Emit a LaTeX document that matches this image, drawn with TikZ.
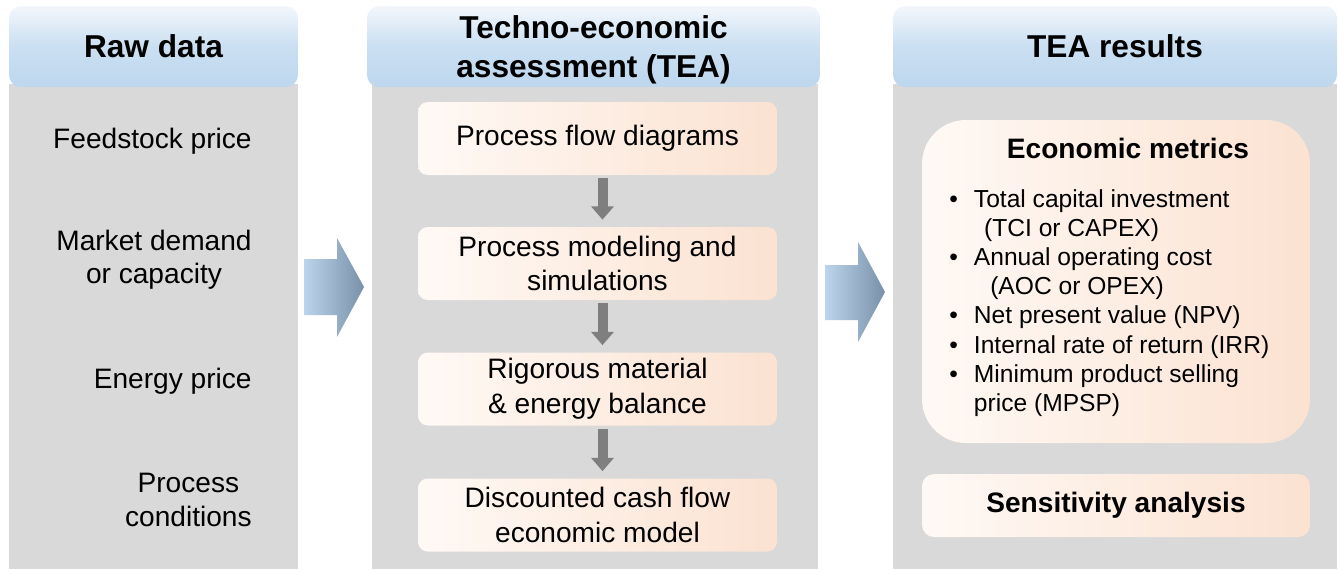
\documentclass[tikz,border=0pt]{standalone}
\usepackage{fontspec}
\setmainfont{Liberation Sans}
\usepackage{tikz}
\usetikzlibrary{arrows.meta,shapes,positioning,calc}
\usepackage{xcolor}

\definecolor{hdrtop}{HTML}{F3F7FC}
\definecolor{hdrbot}{HTML}{BDD7EE}
\definecolor{panel}{HTML}{D9D9D9}
\definecolor{boxl}{HTML}{FFF9F5}
\definecolor{boxr}{HTML}{FBE2D1}
\definecolor{arrl}{HTML}{BCD4EC}
\definecolor{arrr}{HTML}{7890A8}
\definecolor{darrow}{HTML}{7F7F7F}

\tikzset{
    hdr/.style={rounded corners=6.8pt, top color=hdrtop, bottom color=hdrbot,
        middle color=hdrbot!75!hdrtop, minimum height=1.62cm, align=center,
        font=\fontsize{18}{22.5}\selectfont\bfseries},
    stepbox/.style={rounded corners=5.5pt, left color=boxl, right color=boxr,
        minimum width=7.18cm, minimum height=1.46cm, align=center,
        font=\fontsize{16}{19.8}\selectfont},
    rawtxt/.style={anchor=east, align=center, inner sep=0pt,
        font=\fontsize{16}{19}\selectfont},
    downarr/.style={draw=darrow, line width=5.7pt,
        -{Triangle[width=12.5pt,length=7.5pt]}, shorten <=1.7pt, shorten >=4pt}
}

\begin{document}
\begin{tikzpicture}[x=0.02cm, y=-0.02cm]
    \useasboundingbox (0,0) rectangle (1338,569);

    % 三列灰色底板
    \fill[panel] (9,84) rectangle (298,569);
    \fill[panel] (372,84) rectangle (818,569);
    \fill[panel] (893,84) rectangle (1337,569);

    % 列标题
    \node[hdr, minimum width=5.78cm] (hraw) at (153.5,46.5) {Raw data};
    \node[hdr, minimum width=9.06cm, text depth=0pt] (htea) at (593.5,46.5) {Techno-economic\\assessment (TEA)};
    \node[hdr, minimum width=8.88cm] (hres) at (1115,46.5) {TEA results};

    % 原始数据
    \node[rawtxt] (feed) at (252,141) {Feedstock price};
    \node[rawtxt] (market) at (252,260) {Market demand\\or capacity};
    \node[rawtxt] (energy) at (252,381) {Energy price};
    \node[rawtxt] (cond) at (252,500) {Process\\conditions};

    % 列之间的大箭头
    \shade[left color=arrl, right color=arrr] (304,259) -- (337,259) -- (337,238) -- (364,287)
        -- (337,337) -- (337,315) -- (304,315) -- cycle;
    \shade[left color=arrl, right color=arrr] (825,265) -- (858,265) -- (858,242) -- (885,292)
        -- (858,342) -- (858,320) -- (825,320) -- cycle;

    % TEA 步骤
    \node[stepbox] (pfd) at (597.5,138.5) {Process flow diagrams};
    \node[stepbox] (sim) at (597.5,263.5) {Process modeling and\\simulations};
    \node[stepbox] (bal) at (597.5,389) {Rigorous material\\\& energy balance};
    \node[stepbox] (dcf) at (597.5,515) {Discounted cash flow\\economic model};

    % 步骤之间的箭头
    \draw[downarr] ([xshift=0.1cm]pfd.south) -- ([xshift=0.1cm]sim.north);
    \draw[downarr] ([xshift=0.1cm]sim.south) -- ([xshift=0.1cm]bal.north);
    \draw[downarr] ([xshift=0.1cm]bal.south) -- ([xshift=0.1cm]dcf.north);

    % 经济指标框
    \shade[rounded corners=25pt, left color=boxl, right color=boxr] (922,120) rectangle (1310,443);
    \node[font=\fontsize{16}{19}\selectfont\bfseries] (emt) at (1128,148) {Economic metrics};
    \node[anchor=north west, align=left, inner sep=0pt, font=\fontsize{14}{16.6}\selectfont] (emlist) at (949,189) {%
        \makebox[14pt][l]{\textbullet}Total capital investment\\
        \hspace*{19.8pt}(TCI or CAPEX)\\
        \makebox[14pt][l]{\textbullet}Annual operating cost\\
        \hspace*{23.3pt}(AOC or OPEX)\\
        \makebox[14pt][l]{\textbullet}Net present value (NPV)\\
        \makebox[14pt][l]{\textbullet}Internal rate of return (IRR)\\
        \makebox[14pt][l]{\textbullet}Minimum product selling\\
        \hspace*{14pt}price (MPSP)};

    % 敏感性分析
    \node[stepbox, rounded corners=6.8pt, minimum width=7.76cm, minimum height=1.26cm,
        font=\fontsize{16}{19}\selectfont\bfseries] (sens) at (1116,505.5) {Sensitivity analysis};
\end{tikzpicture}
\end{document}
